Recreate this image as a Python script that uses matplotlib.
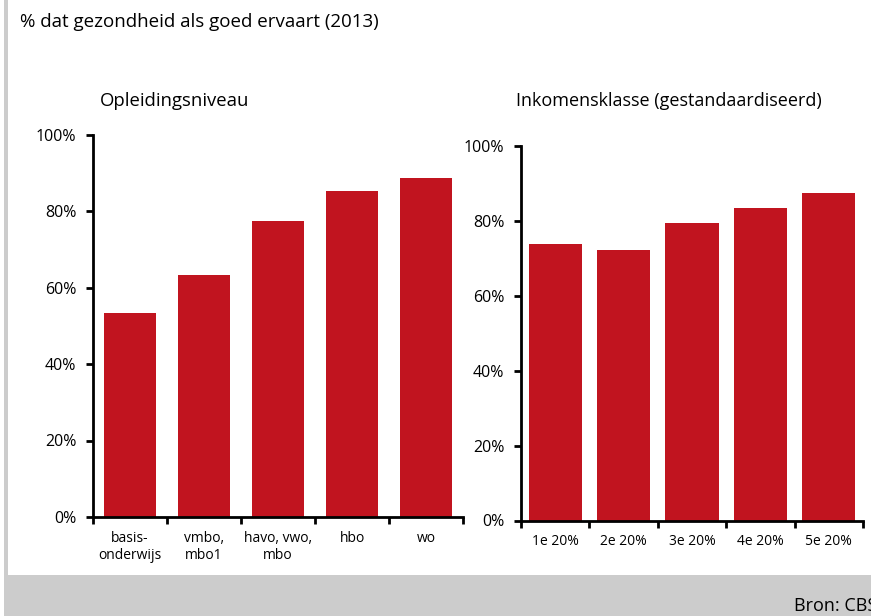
import matplotlib
matplotlib.use("Agg")
import matplotlib.pyplot as plt
from matplotlib.patches import Rectangle
from matplotlib.ticker import FuncFormatter, FixedLocator

plt.rcParams['font.family'] = ['Open Sans', 'DejaVu Sans']

title = "% dat gezondheid als goed ervaart (2013)"
source = "Bron: CBS"

edu_title = "Opleidingsniveau"
edu_labels = ["basis-\nonderwijs", "vmbo,\nmbo1", "havo, vwo,\nmbo", "hbo", "wo"]
edu_values = [53.3, 63.2, 77.5, 85.1, 88.5]

inc_title = "Inkomensklasse (gestandaardiseerd)"
inc_labels = ["1e 20%", "2e 20%", "3e 20%", "4e 20%", "5e 20%"]
inc_values = [73.9, 72.1, 79.3, 83.3, 87.3]

y_ticks = [0, 20, 40, 60, 80, 100]

W, H = 871, 616
fig = plt.figure(figsize=(W / 100, H / 100), dpi=100)
fig.patch.set_facecolor("white")

gray = "#CCCCCC"
# left border strip and bottom band
fig.patches.append(Rectangle((4 / W, 0), 4 / W, 1, transform=fig.transFigure,
                             facecolor=gray, edgecolor="none", zorder=0))
fig.patches.append(Rectangle((4 / W, 0), 1, 41 / H, transform=fig.transFigure,
                             facecolor=gray, edgecolor="none", zorder=0))

bar_color = "#C1141F"


def px(x, y):
    return x / W, 1 - y / H


def make_axes(rect, labels, values, width):
    ax = fig.add_axes(rect)
    n = len(values)
    xs = list(range(n))
    ax.bar(xs, values, width=width, color=bar_color, zorder=2)
    ax.set_xlim(-0.5, n - 0.5)
    ax.set_ylim(0, 100)
    for s in ("top", "right"):
        ax.spines[s].set_visible(False)
    for s in ("left", "bottom"):
        ax.spines[s].set_linewidth(2)
        ax.spines[s].set_color("black")
    ax.set_yticks(y_ticks)
    ax.yaxis.set_major_formatter(FuncFormatter(lambda v, p: f"{int(v)}%"))
    ax.tick_params(axis="y", length=5, width=2, direction="out", pad=7,
                   labelsize=11.5, colors="black")
    ax.set_xticks(xs)
    ax.set_xticklabels(labels)
    ax.tick_params(axis="x", which="major", length=0, pad=10, labelsize=10)
    ax.xaxis.set_minor_locator(FixedLocator([i - 0.5 for i in range(n + 1)]))
    ax.tick_params(axis="x", which="minor", length=5, width=2, direction="out")
    return ax


# left chart: x 93-463, y 134.5 (100%) - 517 (0%)
make_axes([93 / W, (H - 517) / H, 370 / W, (517 - 134.5) / H],
          edu_labels, edu_values, 0.716)
# right chart: x 521-863, y 145.7 (100%) - 520.5 (0%)
make_axes([521 / W, (H - 520.5) / H, 342 / W, (520.5 - 145.7) / H],
          inc_labels, inc_values, 0.775)

fig.text(*px(20, 22), title, fontsize=13.5, ha="left", va="center")
fig.text(*px(100, 101), edu_title, fontsize=13.3, ha="left", va="center")
fig.text(*px(516, 101), inc_title, fontsize=13, ha="left", va="center")
fig.text(*px(794, 606), source, fontsize=13, ha="left", va="center")

fig.savefig("out.png", dpi=100)
